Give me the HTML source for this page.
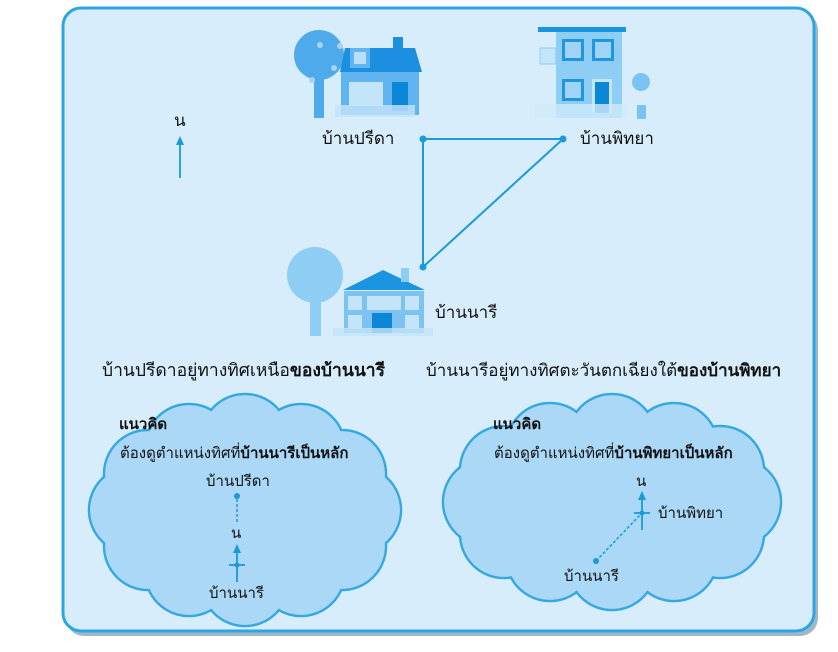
<!DOCTYPE html>
<html><head><meta charset="utf-8"><style>
html,body{margin:0;padding:0;background:#fff;}
svg{display:block;}
text{font-family:"Liberation Sans","DejaVu Sans",sans-serif;fill:#111;}
</style></head><body>
<svg width="838" height="652" viewBox="0 0 838 652" xmlns="http://www.w3.org/2000/svg">
<rect x="66" y="12" width="752" height="624" rx="18" fill="#9fb7c8"/>
<rect x="63" y="8" width="751" height="623" rx="18" fill="#d8edfb" stroke="#2ea5e3" stroke-width="3"/>

<!-- house Preeda -->
<g>
<circle cx="319" cy="55" r="25" fill="#4eaaea"/>
<rect x="314" y="70" width="10" height="48" fill="#4eaaea"/>
<circle cx="320" cy="45" r="3" fill="#a8d4f4"/><circle cx="340" cy="46" r="3" fill="#a8d4f4"/><circle cx="334" cy="68" r="3" fill="#a8d4f4"/><circle cx="312" cy="80" r="3" fill="#a8d4f4"/>
<polygon points="345,48 415,48 422,72 340,72" fill="#1c8fe0"/>
<rect x="393" y="37" width="10" height="12" fill="#1c8fe0"/>
<rect x="341" y="72" width="78" height="43" fill="#60b4ef"/>
<rect x="350" y="48" width="20" height="20" fill="#60b4ef"/><rect x="354" y="52" width="12" height="12" fill="#b9dff8"/>
<rect x="349" y="82" width="34" height="24" fill="#c4e4f9"/>
<rect x="392" y="82" width="16" height="29" fill="#0c87d8"/>
<rect x="335" y="105" width="80" height="12" fill="#c4e4f9" opacity="0.8"/>
</g>
<!-- house Pittaya -->
<g>
<rect x="538" y="27" width="88" height="5" fill="#1c95e0"/>
<rect x="556" y="32" width="66" height="86" fill="#8ecdf4"/>
<rect x="540" y="48" width="16" height="16" fill="#c4e4f9" stroke="#8ecdf4"/>
<rect x="562" y="39" width="22" height="22" fill="#2196e0"/><rect x="565" y="42" width="16" height="16" fill="#9fd4f6"/>
<rect x="592" y="39" width="22" height="22" fill="#2196e0"/><rect x="595" y="42" width="16" height="16" fill="#9fd4f6"/>
<rect x="562" y="79" width="22" height="22" fill="#2196e0"/><rect x="565" y="82" width="16" height="16" fill="#9fd4f6"/>
<rect x="592" y="79" width="20" height="34" fill="#c4e4f9"/><rect x="595" y="82" width="14" height="31" fill="#0c87d8"/>
<rect x="535" y="104" width="92" height="14" fill="#d0eafb" opacity="0.8"/>
<circle cx="641" cy="82" r="9" fill="#7cc3f2"/><rect x="637" y="105" width="9" height="14" fill="#7cc3f2"/>
</g>
<!-- house Naree -->
<g>
<circle cx="315" cy="275" r="28" fill="#8ecdf4"/>
<rect x="310" y="290" width="11" height="46" fill="#8ecdf4"/>
<polygon points="343,290 383,270 425,290" fill="#1c95e0"/>
<rect x="401" y="268" width="8" height="14" fill="#8ecdf4"/>
<rect x="344" y="291" width="80" height="42" fill="#7cc3f2"/>
<rect x="348" y="296" width="14" height="14" fill="#c4e4f9"/><rect x="367" y="296" width="34" height="14" fill="#c4e4f9"/><rect x="405" y="296" width="14" height="14" fill="#c4e4f9"/>
<rect x="348" y="315" width="14" height="14" fill="#c4e4f9"/><rect x="405" y="315" width="14" height="14" fill="#c4e4f9"/>
<rect x="372" y="313" width="20" height="20" fill="#0c87d8"/>
<rect x="333" y="328" width="100" height="8" fill="#c4e4f9" opacity="0.8"/>
</g>

<!-- triangle -->
<polyline points="423,139 563,139 423,267 423,139" fill="none" stroke="#1a9ad8" stroke-width="2"/>
<circle cx="423" cy="139" r="3.5" fill="#1a9ad8"/><circle cx="563" cy="139" r="3.5" fill="#1a9ad8"/><circle cx="423" cy="267" r="3.5" fill="#1a9ad8"/>
<text x="322" y="144" font-size="17">บ้านปรีดา</text>
<text x="580" y="144" font-size="17">บ้านพิทยา</text>
<text x="435" y="318" font-size="17">บ้านนารี</text>
<text x="174" y="126" font-size="17">น</text>
<line x1="180" y1="178" x2="180" y2="142" stroke="#1a9ad8" stroke-width="1.8"/>
<polygon points="176,145 180,136 184,145" fill="#1a9ad8"/>

<text x="102" y="376" font-size="17.5">บ้านปรีดาอยู่ทางทิศเหนือ<tspan font-weight="bold">ของบ้านนารี</tspan></text>
<text x="426" y="376" font-size="17">บ้านนารีอยู่ทางทิศตะวันตกเฉียงใต้<tspan font-weight="bold">ของบ้านพิทยา</tspan></text>

<!-- left cloud -->
<g stroke="#35a7e1" stroke-width="2.5" fill="#aad8f6">
<circle cx="357" cy="510" r="44"/><circle cx="342" cy="546" r="44"/><circle cx="301" cy="572" r="44"/><circle cx="245" cy="582" r="44"/>
<circle cx="189" cy="572" r="44"/><circle cx="148" cy="546" r="44"/><circle cx="133" cy="510" r="44"/><circle cx="148" cy="474" r="44"/>
<circle cx="189" cy="448" r="44"/><circle cx="245" cy="438" r="44"/><circle cx="301" cy="448" r="44"/><circle cx="342" cy="474" r="44"/>
</g>
<g fill="#aad8f6">
<circle cx="357" cy="510" r="42.8"/><circle cx="342" cy="546" r="42.8"/><circle cx="301" cy="572" r="42.8"/><circle cx="245" cy="582" r="42.8"/>
<circle cx="189" cy="572" r="42.8"/><circle cx="148" cy="546" r="42.8"/><circle cx="133" cy="510" r="42.8"/><circle cx="148" cy="474" r="42.8"/>
<circle cx="189" cy="448" r="42.8"/><circle cx="245" cy="438" r="42.8"/><circle cx="301" cy="448" r="42.8"/><circle cx="342" cy="474" r="42.8"/>
<ellipse cx="245" cy="510" rx="115" ry="75"/>
</g>
<!-- right cloud -->
<g stroke="#35a7e1" stroke-width="2.5" fill="#aad8f6">
<circle cx="737" cy="502" r="44"/><circle cx="720" cy="534" r="44"/><circle cx="674" cy="557" r="44"/><circle cx="612" cy="566" r="44"/>
<circle cx="550" cy="557" r="44"/><circle cx="504" cy="534" r="44"/><circle cx="487" cy="502" r="44"/><circle cx="504" cy="470" r="44"/>
<circle cx="550" cy="447" r="44"/><circle cx="612" cy="438" r="44"/><circle cx="674" cy="447" r="44"/><circle cx="720" cy="470" r="44"/>
</g>
<g fill="#aad8f6">
<circle cx="737" cy="502" r="42.8"/><circle cx="720" cy="534" r="42.8"/><circle cx="674" cy="557" r="42.8"/><circle cx="612" cy="566" r="42.8"/>
<circle cx="550" cy="557" r="42.8"/><circle cx="504" cy="534" r="42.8"/><circle cx="487" cy="502" r="42.8"/><circle cx="504" cy="470" r="42.8"/>
<circle cx="550" cy="447" r="42.8"/><circle cx="612" cy="438" r="42.8"/><circle cx="674" cy="447" r="42.8"/><circle cx="720" cy="470" r="42.8"/>
<ellipse cx="612" cy="502" rx="128" ry="68"/>
</g>

<text x="119" y="429" font-size="15" font-weight="bold">แนวคิด</text>
<text x="120" y="458" font-size="15">ต้องดูตำแหน่งทิศที่<tspan font-weight="bold">บ้านนารีเป็นหลัก</tspan></text>
<text x="206" y="486" font-size="15">บ้านปรีดา</text>
<circle cx="237" cy="496" r="3" fill="#1a9ad8"/>
<line x1="237" y1="499" x2="237" y2="522" stroke="#1a9ad8" stroke-width="1.5" stroke-dasharray="3,2"/>
<text x="231" y="538" font-size="15">น</text>
<line x1="237" y1="582" x2="237" y2="550" stroke="#1a9ad8" stroke-width="1.8"/>
<polygon points="233,553 237,544 241,553" fill="#1a9ad8"/>
<line x1="229" y1="565" x2="245" y2="565" stroke="#1a9ad8" stroke-width="1.8"/>
<circle cx="237" cy="565" r="2.5" fill="#1a9ad8"/>
<text x="209" y="598" font-size="15">บ้านนารี</text>

<text x="493" y="429" font-size="15" font-weight="bold">แนวคิด</text>
<text x="494" y="458" font-size="15">ต้องดูตำแหน่งทิศที่<tspan font-weight="bold">บ้านพิทยาเป็นหลัก</tspan></text>
<text x="636" y="486" font-size="15">น</text>
<line x1="642" y1="530" x2="642" y2="498" stroke="#1a9ad8" stroke-width="1.8"/>
<polygon points="638,500 642,491 646,500" fill="#1a9ad8"/>
<line x1="634" y1="513" x2="650" y2="513" stroke="#1a9ad8" stroke-width="1.8"/>
<circle cx="642" cy="513" r="2.5" fill="#1a9ad8"/>
<line x1="596" y1="561" x2="640" y2="515" stroke="#1a9ad8" stroke-width="1.5" stroke-dasharray="3,2"/>
<circle cx="596" cy="561" r="3" fill="#1a9ad8"/>
<text x="658" y="518" font-size="15">บ้านพิทยา</text>
<text x="564" y="581" font-size="15">บ้านนารี</text>
</svg>
</body></html>
